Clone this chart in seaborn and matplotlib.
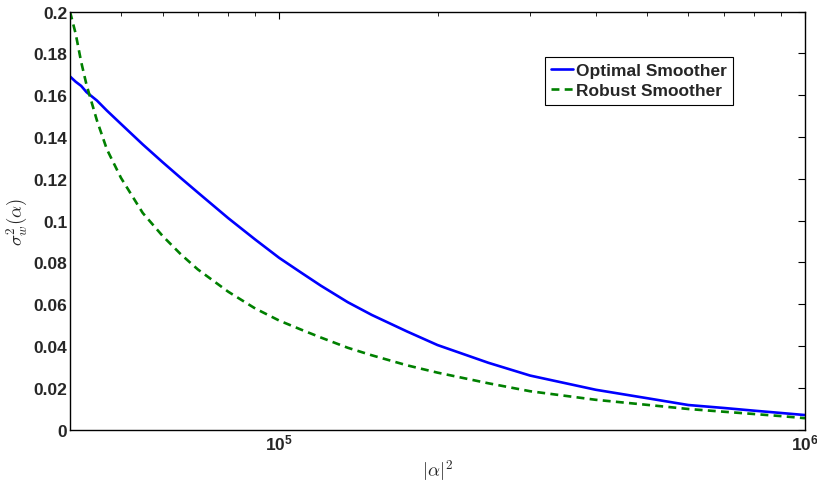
import matplotlib

matplotlib.use("Agg")
import matplotlib.pyplot as plt
import numpy as np
import pandas as pd
import seaborn as sns
from matplotlib.ticker import FixedLocator, FuncFormatter, LogLocator, NullFormatter

# values
alpha_sq = [4.0e4, 4.1e4, 4.2e4, 4.3e4, 4.5e4, 4.7e4, 5.0e4, 5.5e4, 6.0e4, 6.5e4, 7.0e4,
            8.0e4, 9.0e4, 1.0e5, 1.1e5, 1.2e5, 1.35e5, 1.5e5, 1.75e5, 2.0e5, 2.5e5, 3.0e5,
            4.0e5, 5.0e5, 6.0e5, 7.0e5, 8.0e5, 9.0e5, 1.0e6]
optimal = [0.169, 0.1665, 0.1645, 0.1615, 0.1575, 0.1527, 0.1463, 0.1365, 0.1280, 0.1204, 0.1135,
           0.1012, 0.0910, 0.0822, 0.0752, 0.0689, 0.0610, 0.0549, 0.0470, 0.0405, 0.0320, 0.0259,
           0.0191, 0.0151, 0.0118, 0.0104, 0.0091, 0.0080, 0.0070]
robust = [0.200, 0.1895, 0.176, 0.165, 0.148, 0.1342, 0.1205, 0.1037, 0.0927, 0.0839, 0.0767,
          0.0660, 0.0580, 0.0522, 0.0479, 0.0441, 0.0392, 0.0356, 0.0308, 0.0273, 0.0222, 0.0184,
          0.0143, 0.0119, 0.0099, 0.0086, 0.0075, 0.0065, 0.0055]
series_names = ["Optimal Smoother", "Robust Smoother"]
y_ticks = [0, 0.02, 0.04, 0.06, 0.08, 0.1, 0.12, 0.14, 0.16, 0.18, 0.2]

df = pd.DataFrame({
    "x": alpha_sq * 2,
    "y": optimal + robust,
    "series": [series_names[0]] * len(alpha_sq) + [series_names[1]] * len(alpha_sq),
})

sns.set_theme(style="white")
plt.rcParams["font.family"] = ["Liberation Sans", "DejaVu Sans"]
# bold sans for the 10^n tick labels; axis labels switch to cm below
plt.rcParams["mathtext.fontset"] = "custom"
plt.rcParams["mathtext.rm"] = "Liberation Sans"
plt.rcParams["mathtext.bf"] = "Liberation Sans:bold"
plt.rcParams["mathtext.it"] = "Liberation Sans:italic"

fig = plt.figure(figsize=(8.17, 4.81), dpi=100)
ax = fig.add_axes([0.0857, 0.1046, 0.8996, 0.869])

sns.lineplot(
    data=df, x="x", y="y", hue="series", style="series",
    palette={series_names[0]: "#0000ff", series_names[1]: "#008000"},
    dashes={series_names[0]: "", series_names[1]: (3, 2)},
    linewidth=1.9, ax=ax,
)

ax.set_xscale("log")
ax.set_xlim(4e4, 1e6)
ax.set_ylim(0, 0.2)

ax.xaxis.set_major_locator(FixedLocator([1e5, 1e6]))
ax.xaxis.set_major_formatter(FuncFormatter(lambda v, p: r"$\mathbf{10^{%d}}$" % round(np.log10(v))))
ax.xaxis.set_minor_locator(LogLocator(base=10, subs=np.arange(2, 10)))
ax.xaxis.set_minor_formatter(NullFormatter())
ax.yaxis.set_major_locator(FixedLocator(y_ticks))
ax.yaxis.set_major_formatter(FuncFormatter(lambda v, p: "%g" % round(v, 2)))

ax.tick_params(which="both", direction="in", top=True, right=True, color="black")
ax.tick_params(which="major", length=5, width=0.8, labelsize=12.5, pad=2)
ax.tick_params(which="minor", length=3, width=0.6)
for lab in ax.get_yticklabels() + ax.get_xticklabels():
    lab.set_fontweight("bold")
for side in ["left", "right", "top", "bottom"]:
    ax.spines[side].set_color("black")
    ax.spines[side].set_linewidth(1.0)

ax.set_xlabel(r"$|\alpha|^2$", fontsize=13.5, labelpad=3, math_fontfamily="cm")
ax.set_ylabel(r"$\sigma_w^2(\alpha)$", fontsize=13.5, labelpad=2, math_fontfamily="cm")

leg = ax.legend(
    loc="upper left", bbox_to_anchor=(0.646, 0.892), frameon=True, fancybox=False,
    edgecolor="black", framealpha=1, handlelength=1.3, handletextpad=0.15,
    borderpad=0.35, labelspacing=0.3, borderaxespad=0,
    prop={"weight": "bold", "size": 12.5},
)
leg.get_frame().set_linewidth(0.8)

fig.savefig("out.png", dpi=100)
